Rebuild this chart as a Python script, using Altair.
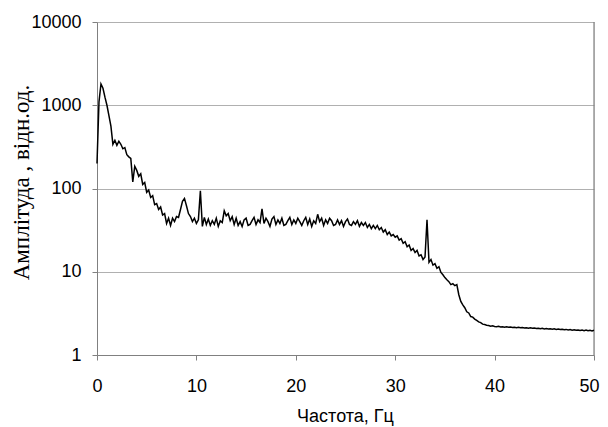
import altair as alt
import pandas as pd

# Amplitude spectrum values, one every 0.2 Hz from 0 to 50 Hz
amp = [
    200, 1100, 1800, 1600, 1250, 1000, 750, 560, 340, 380,
    330, 370, 340, 300, 310, 255, 240, 230, 120, 185,
    165, 140, 150, 112, 118, 90, 96, 78, 82, 64,
    66, 56, 60, 48, 50, 38, 44, 36, 44, 40,
    46, 45, 56, 70, 76, 62, 50, 46, 40, 44,
    38, 42, 94, 35, 45, 37, 43, 36, 41, 37,
    44, 35, 41, 39, 54, 47, 50, 41, 46, 37,
    44, 36, 40, 35, 42, 44, 36, 37, 41, 45,
    37, 42, 39, 57, 38, 44, 40, 35, 43, 46,
    37, 42, 38, 44, 36, 37, 41, 45, 37, 42,
    38, 44, 40, 36, 41, 45, 37, 43, 35, 41,
    38, 49, 40, 44, 36, 42, 38, 44, 41, 36,
    37, 42, 37, 41, 35, 40, 43, 37, 36, 40,
    37, 41, 35, 39, 36, 39, 34, 37, 33, 36,
    33, 36, 32, 34, 30, 32, 28, 30, 27, 28,
    26, 27, 24, 25, 22, 23, 20, 21, 18, 19,
    17, 18, 15.5, 16, 14, 15, 42, 13, 14, 12,
    12.5, 11, 11.5, 9.8, 9.2, 8.5, 8.0, 7.6, 7.0, 7.2,
    6.8, 7.0, 5.3, 4.4, 4.0, 3.7, 3.3, 3.2, 2.9, 2.85,
    2.7, 2.6, 2.5, 2.45, 2.35, 2.32, 2.28, 2.26, 2.22, 2.24,
    2.2, 2.18, 2.21, 2.17, 2.19, 2.16, 2.18, 2.15, 2.17, 2.14,
    2.16, 2.13, 2.15, 2.12, 2.14, 2.11, 2.13, 2.10, 2.12, 2.09,
    2.11, 2.08, 2.10, 2.07, 2.09, 2.06, 2.08, 2.05, 2.07, 2.04,
    2.06, 2.03, 2.05, 2.02, 2.04, 2.01, 2.03, 2.00, 2.02, 1.99,
    2.01, 1.98, 2.00, 1.97, 1.99, 1.96, 1.99, 1.96, 1.98, 1.95,
    1.98,
]
freq = [round(i * 0.2, 1) for i in range(len(amp))]

x_ticks = [0, 10, 20, 30, 40, 50]
y_ticks = [1, 10, 100, 1000, 10000]

df = pd.DataFrame({"f": freq, "a": amp})
border_df = pd.DataFrame({"f": [x_ticks[-1]]})

x_enc = alt.X(
    "f:Q",
    scale=alt.Scale(domain=[0, 50], nice=False, zero=False),
    axis=alt.Axis(
        title="Частота, Гц",
        values=x_ticks,
        grid=False,
        format="d",
        labelFlush=False,
        labelAlign={"condition": {"test": "datum.value >= 50", "value": "right"}, "value": "center"},
        labelOffset={"condition": {"test": "datum.value >= 50", "value": 5}, "value": 0},
        labelFontSize=18,
        labelFont="Liberation Sans",
        labelColor="black",
        labelPadding=17,
        tickSize=5,
        tickColor="#808080",
        domainColor="#808080",
        titleFont="Liberation Sans",
        titleFontSize=18,
        titleFontWeight="normal",
        titleColor="black",
        titleX=248,
        titleY=66,
        titleBaseline="alphabetic",
        titleAlign="center",
    ),
)

line = alt.Chart(df).mark_line(color="black", strokeWidth=1.5).encode(
    x=x_enc,
    y=alt.Y(
        "a:Q",
        scale=alt.Scale(type="log", domain=[1, 10000], nice=False),
        axis=alt.Axis(
            title="Амплітуда , відн.од.",
            values=y_ticks,
            format="d",
            grid=True,
            gridColor="#b0b0b0",
            labelFlush=False,
            labelFontSize=18,
            labelFont="Liberation Sans",
            labelColor="black",
            labelPadding=11,
            tickSize=5,
            tickColor="#808080",
            domainColor="#808080",
            titleFont="Liberation Serif",
            titleFontSize=23,
            titleFontWeight="normal",
            titleColor="black",
            titleAngle=270,
            titleX=-69,
            titleY=160,
            titleBaseline="alphabetic",
            titleAlign="center",
        ),
    ),
)

border = alt.Chart(border_df).mark_rule(color="#808080", strokeWidth=1.2).encode(
    x=alt.X("f:Q")
)

chart = alt.layer(border, line).properties(
    width=497,
    height=333,
    autosize="none",
    padding={"left": 89, "top": 14, "right": 6, "bottom": 76},
).configure_view(
    stroke="#909090",
    strokeWidth=1,
).configure(background="white")

chart.save("out.html", embed_options={"renderer": "svg", "actions": False})
